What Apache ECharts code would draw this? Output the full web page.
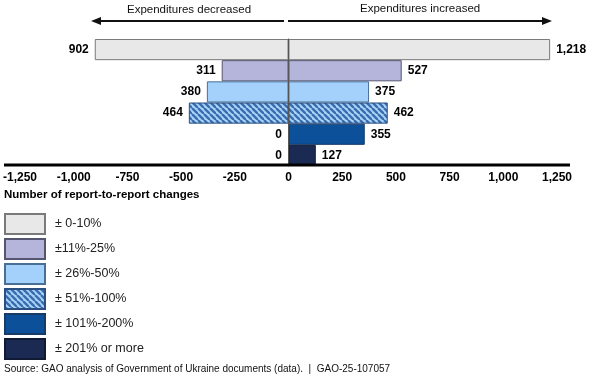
<!DOCTYPE html>
<html><head><meta charset="utf-8">
<script src="https://cdn.jsdelivr.net/npm/echarts@6/dist/echarts.min.js"></script>
<style>html,body{margin:0;padding:0;background:#fff}#c{width:599px;height:378px}</style>
</head><body><div id="c"></div>
<script>
const categories = ['± 0-10%', '±11%-25%', '± 26%-50%', '± 51%-100%', '± 101%-200%', '± 201% or more'];
const decreased = [902, 311, 380, 464, 0, 0];
const increased = [1218, 527, 375, 462, 355, 127];
const xTicks = { min: -1250, max: 1250, interval: 250 };

function hatch() {
  const p = 6, cv = document.createElement('canvas');
  cv.width = p; cv.height = p;
  const g = cv.getContext('2d');
  g.fillStyle = '#a9d3f7'; g.fillRect(0, 0, p, p);
  g.strokeStyle = '#3a6db0'; g.lineWidth = 2.4;
  for (let k = -1; k <= 1; k++) {
    g.beginPath(); g.moveTo(k * p, 0); g.lineTo(k * p + p, p); g.stroke();
  }
  return { image: cv, repeat: 'repeat' };
}
const fills = ['#e8e8e8', '#b5b5dc', '#a3d1fb', hatch(), '#0b5099', '#1a2a52'];
const borders = ['#7a7a7a', '#555570', '#4a6f95', '#2a4f80', '#173a66', '#111a33'];
const fmt = v => Math.abs(v).toLocaleString('en-US');
const FONT = '"Liberation Sans", Arial, sans-serif';

const series = [];
function mk(i, vals, side) {
  const data = categories.map((_, j) => j === i ? vals[i] : '-');
  return {
    type: 'bar', name: categories[i], stack: 'total', barCategoryGap: '0%',
    data: data,
    itemStyle: { color: fills[i], borderColor: borders[i], borderWidth: 1 },
    label: { show: true, position: side, distance: 6, color: '#000', fontWeight: 'bold',
      fontSize: 12, fontFamily: FONT, formatter: p => fmt(p.value) },
    emphasis: { disabled: true }
  };
}
categories.forEach((_, i) => series.push(mk(i, decreased.map(v => -v), 'left')));
categories.forEach((_, i) => series.push(mk(i, increased, 'right')));

const chart = echarts.init(document.getElementById('c'), null, { renderer: 'canvas' });
chart.setOption({
  animation: false,
  textStyle: { fontFamily: FONT },
  grid: { left: 16, right: 42, top: 39, bottom: 212, containLabel: false },
  xAxis: {
    type: 'value', min: xTicks.min, max: xTicks.max, interval: xTicks.interval,
    axisLine: { show: false }, axisTick: { show: false }, splitLine: { show: false },
    axisLabel: { margin: 6, color: '#000', fontWeight: 'bold', fontSize: 12, fontFamily: FONT,
      formatter: v => v.toLocaleString('en-US') }
  },
  yAxis: {
    type: 'category', data: categories, inverse: true, z: 5,
    axisLine: { show: true, onZero: true, lineStyle: { color: '#555', width: 1 } },
    axisTick: { show: false }, axisLabel: { show: false }
  },
  legend: {
    data: categories, orient: 'vertical', left: 4, top: 213, height: 165, padding: 0,
    itemWidth: 40, itemHeight: 20, itemGap: 3, icon: 'rect', selectedMode: false,
    textStyle: { fontSize: 12.5, color: '#222', fontFamily: FONT, padding: [0, 0, 0, 5], lineHeight: 14 }
  },
  title: [
    { text: 'Number of report-to-report changes', left: 4, top: 189,
      textStyle: { fontSize: 11.5, fontWeight: 'bold', color: '#000', fontFamily: FONT }, padding: 0 },
    { text: 'Expenditures decreased', left: 127, top: 4,
      textStyle: { fontSize: 11.5, fontWeight: 'normal', color: '#111', fontFamily: FONT }, padding: 0 },
    { text: 'Expenditures increased', left: 360, top: 3,
      textStyle: { fontSize: 11.5, fontWeight: 'normal', color: '#111', fontFamily: FONT }, padding: 0 },
    { text: 'Source: GAO analysis of Government of Ukraine documents (data).  |  GAO-25-107057', left: 4, top: 364,
      textStyle: { fontSize: 10, fontWeight: 'normal', color: '#111', fontFamily: FONT }, padding: 0 }
  ],
  graphic: [
    { type: 'line', shape: { x1: 4, y1: 165, x2: 570, y2: 165 }, style: { stroke: '#000', lineWidth: 3 }, z: 10 },
    { type: 'line', shape: { x1: 99, y1: 21, x2: 284, y2: 21 }, style: { stroke: '#111', lineWidth: 2 } },
    { type: 'polygon', shape: { points: [[91, 21], [101, 17], [101, 25]] }, style: { fill: '#111' } },
    { type: 'line', shape: { x1: 288, y1: 21, x2: 544, y2: 21 }, style: { stroke: '#111', lineWidth: 2 } },
    { type: 'polygon', shape: { points: [[552, 21], [542, 17], [542, 25]] }, style: { fill: '#111' } }
  ],
  series: series
});
</script></body></html>
